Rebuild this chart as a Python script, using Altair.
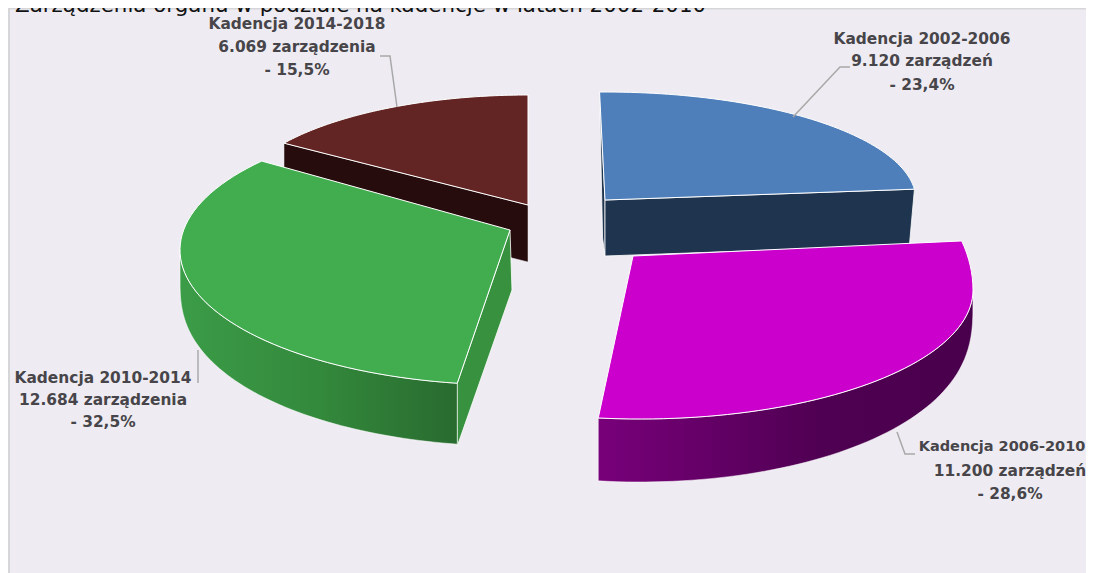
import math
import altair as alt
import pandas as pd

# ---- chart values
kadencje = ["Kadencja 2002-2006", "Kadencja 2006-2010", "Kadencja 2010-2014", "Kadencja 2014-2018"]
zarzadzenia = ["9.120 zarządzeń", "11.200 zarządzeń", "12.684 zarządzenia", "6.069 zarządzenia"]
procenty = [23.4, 28.6, 32.5, 15.5]
procent_txt = ["- 23,4%", "- 28,6%", "- 32,5%", "- 15,5%"]
tytul = "Zarządzenia organu w podziale na kadencje w latach 2002-2010"

# ---- layout (picture pixels)
W, H = 1086, 573
BG = "#eeecf2"
TOP = ["#4e7fba", "#cc00cc", "#41ad4f", "#632523"]
SIDE = ["#1f344e", None, "#38913f", "#260c0c"]
# apex, ellipse centre, radii (rx, ry below, ry above), trims of start/end angle
GEO = [
    dict(a=(605, 200), c=(605, 200), r=(311, 108, 108), t=(-1, 0)),
    dict(a=(633, 256), c=(640, 290), r=(333, 129, 190), t=(-9.2, 0)),
    dict(a=(510, 230), c=(510, 250), r=(330, 135, 135), t=(2, 7)),
    dict(a=(528, 205), c=(528, 205), r=(295, 110, 110), t=(0, 0)),
]
# per line: x centre, y centre, font size
LABEL_POS = [
    [(922, 39, 15.4), (922, 61, 15.4), (922, 85, 15.4)],
    [(1002, 447, 14.5), (1010, 471, 15.4), (1010, 494, 15.4)],
    [(103, 378, 15.4), (103, 400, 15.4), (103, 422, 15.4)],
    [(297, 24, 15.4), (297, 47, 15.4), (297, 70, 15.4)],
]
LEADERS = [
    [(850, 67), (840, 67), (793, 117)],
    [(897, 432), (905, 454), (915, 454)],
    [(198, 350), (198, 383)],
    [(380, 56), (390, 56), (397, 107)],
]

X = alt.X("x:Q", scale=alt.Scale(domain=[8, W], range=[0, W - 8]), axis=None)
Y = alt.Y("y:Q", scale=alt.Scale(domain=[8, H], range=[0, H - 8]), axis=None)
Y2 = alt.Y2("y2:Q")


def slice_angles():
    out, acc = [], 0.0
    for p, g in zip(procenty, GEO):
        a0 = acc * 3.6 + g["t"][0]
        acc += p
        out.append((a0, acc * 3.6 + g["t"][1]))
    return out


def pt(g, deg):
    r = math.radians(deg)
    c = math.cos(r)
    ry = g["r"][2] if c > 0 else g["r"][1]
    return (g["c"][0] + g["r"][0] * math.sin(r), g["c"][1] - ry * c)


def arc(g, a0, a1, n=60):
    return [pt(g, a0 + (a1 - a0) * i / n) for i in range(n + 1)]


def polygon(points, fill, stroke="white", sw=1.0):
    pts = list(points) + [points[0]]
    df = pd.DataFrame({"x": [p[0] for p in pts], "y": [p[1] for p in pts], "o": list(range(len(pts)))})
    return alt.Chart(df).mark_line(fill=fill, stroke=stroke, strokeWidth=sw, interpolate="linear").encode(
        x=X, y=Y, order="o:Q")


def wall(g, a0, a1, depth, power, stops):
    rows = []
    n = 60
    for i in range(n + 1):
        d = a0 + (a1 - a0) * i / n
        x, y = pt(g, d)
        rows.append({"x": x, "y": y, "y2": y + depth * abs(math.cos(math.radians(d))) ** power})
    df = pd.DataFrame(rows).sort_values("x")
    grad = alt.Gradient(gradient="linear", x1=0, x2=1, y1=0, y2=0,
                        stops=[alt.GradientStop(color=c, offset=o) for o, c in stops])
    return alt.Chart(df).mark_area(color=grad, stroke="white", strokeWidth=0.5).encode(x=X, y=Y, y2=Y2)


ang = slice_angles()
layers = []

# top and left border of the panel
border = pd.DataFrame({"x": [8, 9], "x2": [W, 9], "y": [8.5, 8], "y2": [8.5, H]})
layers.append(alt.Chart(border).mark_rule(color="#d6d6d8", strokeWidth=2).encode(
    x=X, x2=alt.X2("x2:Q"), y=Y, y2=Y2))

# brown slice
g = GEO[3]; a0, a1 = ang[3]
e = pt(g, a0)
layers.append(polygon([g["a"], e, (e[0], e[1] + 28), (512, 258), (g["a"][0], g["a"][1] + 57)], SIDE[3], stroke=BG, sw=0.5))
layers.append(polygon([g["a"]] + arc(g, a0, a1), TOP[3]))

# green slice
g = GEO[2]; a0, a1 = ang[2]
e = pt(g, a0)
layers.append(polygon([g["a"], e, (e[0], e[1] + 63), (g["a"][0] + 2, g["a"][1] + 60)], SIDE[2], sw=0.8))
layers.append(wall(g, a0, 270, 61, 0.15, [(0, "#3b9c47"), (0.5, "#33893c"), (1, "#296b2f")]))
layers.append(polygon([g["a"]] + arc(g, a0, a1), TOP[2]))

# blue slice
g = GEO[0]; a0, a1 = ang[0]
e = pt(g, a1); s = pt(g, a0)
layers.append(polygon([s, g["a"], (g["a"][0], g["a"][1] + 56), (s[0] + 3, s[1] + 146)], SIDE[0], sw=0.8))
layers.append(polygon([g["a"], e, (e[0] - 5, e[1] + 56), (g["a"][0], g["a"][1] + 56)], SIDE[0], sw=0.8))
layers.append(polygon([g["a"]] + arc(g, a0, a1), TOP[0]))

# magenta slice
g = GEO[1]; a0, a1 = ang[1]
layers.append(wall(g, 90, a1, 63, 0.3, [(0, "#78007a"), (0.6, "#4f0052"), (1, "#49004c")]))
layers.append(polygon([g["a"]] + arc(g, a0, a1), TOP[1]))

# leader lines
for pts in LEADERS:
    df = pd.DataFrame({"x": [p[0] for p in pts], "y": [p[1] for p in pts], "o": list(range(len(pts)))})
    layers.append(alt.Chart(df).mark_line(color="#a8a8a8", strokeWidth=1.5).encode(x=X, y=Y, order="o:Q"))

# labels
for i, lines in enumerate(LABEL_POS):
    for txt, (cx, y, fs) in zip([kadencje[i], zarzadzenia[i], procent_txt[i]], lines):
        layers.append(alt.Chart(pd.DataFrame({"x": [cx], "y": [y], "t": [txt]})).mark_text(
            font="DejaVu Sans", fontSize=fs, fontWeight="bold", color="#474549", align="center", baseline="middle"
        ).encode(x=X, y=Y, text="t:N"))

# heading, cut by the top of the picture as in the reference
layers.append(alt.Chart(pd.DataFrame({"x": [15], "y": [12], "t": [tytul]})).mark_text(
    font="DejaVu Sans", fontSize=21.4, color="#111111", align="left", baseline="alphabetic"
).encode(x=X, y=Y, text="t:N"))

chart = alt.layer(*layers).properties(
    width=W - 8, height=H - 8, background=BG, padding=0,
    autosize=alt.AutoSizeParams(type="none"),
).configure_view(stroke=None)

chart.save("out.html", embed_options={"renderer": "svg", "actions": False})
